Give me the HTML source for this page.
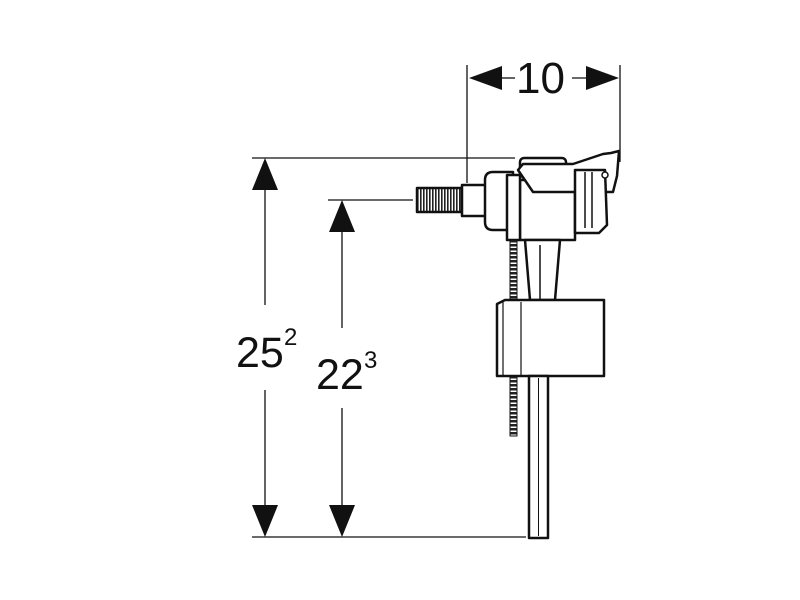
<!DOCTYPE html>
<html><head><style>html,body{margin:0;background:#fff}svg{display:block}</style></head><body>
<svg width="800" height="600" viewBox="0 0 800 600" xmlns="http://www.w3.org/2000/svg">
<defs>
<pattern id="thr" width="3" height="10" patternUnits="userSpaceOnUse"><rect width="3" height="10" fill="#fff"/><rect width="1.6" height="10" fill="#222"/></pattern>
<pattern id="spr" width="10" height="4" patternUnits="userSpaceOnUse"><rect width="10" height="4" fill="#fff"/><rect width="10" height="2.5" fill="#222"/></pattern>
</defs>
<g stroke="#111" stroke-width="1.3" fill="none">
<line x1="467" y1="65" x2="467" y2="183"/>
<line x1="620" y1="65" x2="620" y2="162"/>
<line x1="252" y1="158" x2="515" y2="158"/>
<line x1="328" y1="200" x2="413" y2="200"/>
<line x1="252" y1="537" x2="526" y2="537"/>
<line x1="500" y1="78" x2="515" y2="78"/>
<line x1="572" y1="78" x2="590" y2="78"/>
<line x1="265" y1="188" x2="265" y2="305"/>
<line x1="265" y1="390" x2="265" y2="508"/>
<line x1="342" y1="230" x2="342" y2="328"/>
<line x1="342" y1="408" x2="342" y2="508"/>
</g>
<g fill="#111">
<polygon points="469,78 502,66 502,90"/>
<polygon points="619,78 586,66 586,90"/>
<polygon points="265,158 252,190 278,190"/>
<polygon points="265,537 252,505 278,505"/>
<polygon points="342,200 329,232 355,232"/>
<polygon points="342,537 329,505 355,505"/>
</g>
<g font-family="Liberation Sans, sans-serif" fill="#111">
<text x="516" y="93" font-size="44">10</text>
<text x="236" y="367" font-size="43">25</text><text x="284" y="345" font-size="24">2</text>
<text x="316" y="389" font-size="43">22</text><text x="364" y="368" font-size="24">3</text>
</g>
<g stroke="#111" stroke-width="2.5" fill="#fff" stroke-linejoin="round">
<rect x="417" y="188" width="45" height="24" fill="url(#thr)"/>
<rect x="462" y="185" width="25" height="31"/>
<path d="M485 180 q0-8 8-8 h20 v58 h-20 q-8 0-8-8z"/>
<rect x="520" y="158" width="46" height="19" rx="4"/>
<path d="M520 180 h55 v60 h-55z"/>
<path d="M518 170 l5-6 h50 l30 -10 l8 -1 l8 -2 l-2 25 l-4 16 h-80 z"/>
<path d="M575 170 h30 l2 55 l-8 8 h-24z"/>
<line x1="585" y1="172" x2="585" y2="228" stroke-width="1.5"/>
<line x1="592" y1="172" x2="592" y2="228" stroke-width="1.5"/>
<circle cx="605" cy="175" r="3" stroke-width="1.5"/>
<path d="M525 240 l5 60 h25 l5 -60z"/>
<line x1="540" y1="245" x2="540" y2="300" stroke-width="1.5"/>
<rect x="507" y="175" width="13" height="65"/>
<rect x="510" y="240" width="7" height="60" fill="url(#spr)" stroke-width="1"/>
<rect x="510" y="376" width="7" height="60" fill="url(#spr)" stroke-width="1"/>
<path d="M497 376 v-72 l8 -4 h99 v76z"/>
<line x1="503" y1="302" x2="503" y2="376" stroke-width="1.2"/>
<line x1="521" y1="302" x2="521" y2="376" stroke-width="1.2"/>
<rect x="529" y="376" width="19" height="162"/>
<line x1="538.5" y1="378" x2="538.5" y2="536" stroke-width="1"/>
</g>
</svg>
</body></html>
